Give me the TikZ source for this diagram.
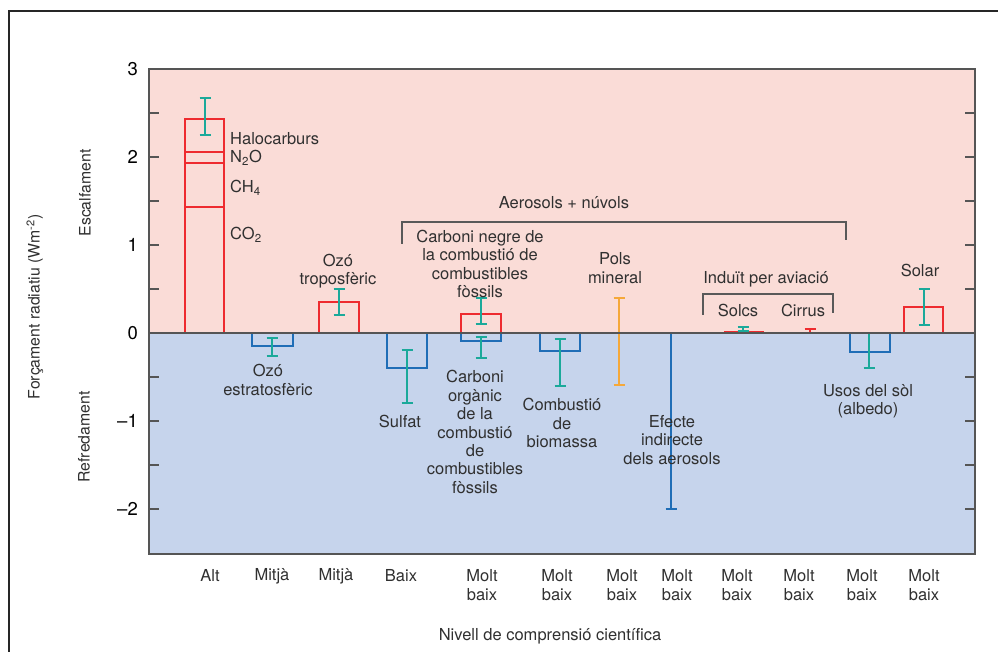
\documentclass[tikz,border=0pt]{standalone}
\usepackage{fontspec}
\setmainfont{TeX Gyre Heros}
\definecolor{bgpink}{HTML}{FADCD7}
\definecolor{bgblue}{HTML}{C6D4EC}
\definecolor{rbar}{HTML}{EE2B2F}
\definecolor{bbar}{HTML}{1F6DB6}
\definecolor{tealc}{HTML}{1BA99A}
\definecolor{orng}{HTML}{F5A83A}
\definecolor{txt}{HTML}{303030}
\definecolor{axc}{HTML}{555555}
\newcommand{\errb}[4]{\draw[#1, line width=1.9pt] (#2,#3) -- (#2,#4) (#2-5.5,#3) -- (#2+5.5,#3) (#2-5.5,#4) -- (#2+5.5,#4);}
\begin{document}
\begin{tikzpicture}[x=1pt,y=-1pt,
  axis/.style={draw=axc, line width=1.3pt},
  lab/.style={font=\fontsize{16.5}{18.4}\selectfont, text=txt, align=center, inner sep=0pt},
  ticklab/.style={font=\fontsize{18.5}{20}\selectfont, text=black, inner sep=0pt, anchor=east},
  side/.style={font=\fontsize{15.8}{17}\selectfont, text=txt, inner sep=0pt, rotate=90},
  redbar/.style={draw=rbar, line width=1.9pt},
  bluebar/.style={draw=bbar, line width=1.9pt},
  brk/.style={draw=txt!80, line width=1.2pt}]
\useasboundingbox (0,0) rectangle (999,652);
\fill[white] (0,0) rectangle (999,652);
% outer frame
\draw[draw=black!85, line width=1.2pt] (9,652) -- (9,11) -- (998,11);
% plot background
\fill[bgpink] (149,69) rectangle (975,333);
\fill[bgblue] (149,333) rectangle (975,554);
% ticks
\foreach \v in {-2,-1.5,-1,-0.5,0.5,1,1.5,2,2.5} {
  \draw[axis] (149,{333-88*\v}) -- ++(10,0);
  \draw[axis] (975,{333-88*\v}) -- ++(-10,0);
}
\foreach \v/\t in {3/3,2/2,1/1,0/0,-1/\textendash1,-2/\textendash2}
  \node[ticklab] (t\v) at (138,{333-88*\v}) {\t};
% bars
\draw[redbar] (185,333) -- (185,119) -- (224,119) -- (224,333)
  (185,152) -- (224,152) (185,163) -- (224,163) (185,207) -- (224,207);
\errb{tealc}{205}{98}{135}
\draw[bluebar] (252,333) -- (252,346) -- (293,346) -- (293,333);
\errb{tealc}{272}{338}{356}
\draw[redbar] (319,333) -- (319,302) -- (359,302) -- (359,333);
\errb{tealc}{339}{289}{315}
\draw[bluebar] (387,333) -- (387,368) -- (427,368) -- (427,333);
\errb{tealc}{407}{350}{403}
\draw[redbar] (461,333) -- (461,314) -- (501,314) -- (501,333);
\draw[bluebar] (461,333) -- (461,341) -- (501,341) -- (501,333);
\errb{tealc}{481}{298}{324}
\errb{tealc}{481}{337}{358}
\draw[bluebar] (540,333) -- (540,351) -- (580,351) -- (580,333);
\errb{tealc}{560}{339}{386}
\errb{orng}{619}{298}{385}
\errb{bbar}{671}{333}{509}
\draw[redbar] (724,331.5) -- (764,331.5);
\errb{tealc}{743}{327}{331}
\errb{rbar}{810}{329}{333}
\draw[bluebar] (850,333) -- (850,352) -- (890,352) -- (890,333);
\errb{tealc}{869}{333}{368}
\draw[redbar] (904,333) -- (904,307) -- (943,307) -- (943,333);
\errb{tealc}{924}{289}{325}
% zero line and frame
\draw[axis] (149,333) -- (975,333);
\draw[axis] (149,69) rectangle (975,554);
% brackets
\draw[brk] (402,244) -- (402,222) -- (846,222) -- (846,240);
\draw[brk] (703,315) -- (703,294) -- (833,294) -- (833,313);
% labels in plot
\node[lab, anchor=west] (halo) at (230,139) {Halocarburs};
\node[lab, anchor=west] (n2o) at (230,158) {N\textsubscript{2}O};
\node[lab, anchor=west] (ch4) at (230,188) {CH\textsubscript{4}};
\node[lab, anchor=west] (co2) at (230,235) {CO\textsubscript{2}};
\node[lab] (otro) at (338,271) {Ozó\\troposfèric};
\node[lab] (oest) at (268,380) {Ozó\\estratosfèric};
\node[lab] (sulf) at (400,421) {Sulfat};
\node[lab] (corg) at (475,432) {Carboni\\orgànic\\de la\\combustió\\de\\combustibles\\fòssils};
\node[lab] (biom) at (562,423) {Combustió\\de\\biomassa};
\node[lab] (efec) at (672,440) {Efecte\\indirecte\\dels aerosols};
\node[lab] (cneg) at (480,264) {Carboni negre de\\la combustió de\\combustibles\\fòssils};
\node[lab] (pols) at (615,268) {Pols\\mineral};
\node[lab] (aero) at (564,203) {Aerosols + núvols};
\node[lab] (avia) at (766,279) {Induït per aviació};
\node[lab] (solc) at (738,310) {Solcs};
\node[lab] (cirr) at (803,310) {Cirrus};
\node[lab] (usos) at (868,401) {Usos del sòl\\(albedo)};
\node[lab] (sola) at (920,270) {Solar};
% bottom labels
\node[lab] (b1) at (210,576) {Alt};
\node[lab] (b2) at (272,576) {Mitjà};
\node[lab] (b3) at (336,576) {Mitjà};
\node[lab] (b4) at (401,576) {Baix};
\foreach \x [count=\i from 5] in {482,557,622,677,737,799,862,924}
  \node[lab] (b\i) at (\x,585) {Molt\\baix};
\node[lab] (xt) at (550,636) {Nivell de comprensió científica};
% side labels
\node[side] (yt) at (35,307) {Forçament radiatiu (Wm\textsuperscript{-2})};
\node[side] (esc) at (85,193) {Escalfament};
\node[side] (ref) at (84,437) {Refredament};
\end{tikzpicture}
\end{document}
